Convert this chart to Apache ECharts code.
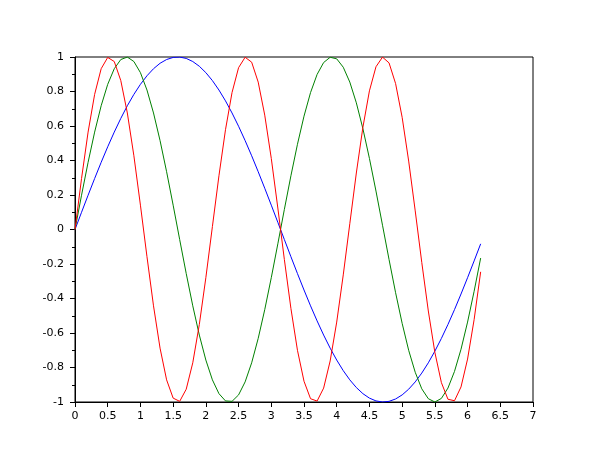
<!DOCTYPE html>
<html><head><meta charset="utf-8">
<script src="https://cdn.jsdelivr.net/npm/echarts@6/dist/echarts.min.js"></script>
<style>html,body{margin:0;padding:0;background:#fff}#c{width:610px;height:460px}</style>
</head><body><div id="c"></div>
<script>
const xs = [0,0.1,0.2,0.3,0.4,0.5,0.6,0.7,0.8,0.9,1,1.1,1.2,1.3,1.4,1.5,1.6,1.7,1.8,1.9,2,2.1,2.2,2.3,2.4,2.5,2.6,2.7,2.8,2.9,3,3.1,3.2,3.3,3.4,3.5,3.6,3.7,3.8,3.9,4,4.1,4.2,4.3,4.4,4.5,4.6,4.7,4.8,4.9,5,5.1,5.2,5.3,5.4,5.5,5.6,5.7,5.8,5.9,6,6.1,6.2];
const blueY = [0,0.0998,0.1987,0.2955,0.3894,0.4794,0.5646,0.6442,0.7174,0.7833,0.8415,0.8912,0.9320,0.9636,0.9854,0.9975,0.9996,0.9917,0.9738,0.9463,0.9093,0.8632,0.8085,0.7457,0.6755,0.5985,0.5155,0.4274,0.3350,0.2392,0.1411,0.0416,-0.0584,-0.1577,-0.2555,-0.3508,-0.4425,-0.5298,-0.6119,-0.6878,-0.7568,-0.8183,-0.8716,-0.9162,-0.9516,-0.9775,-0.9937,-0.9999,-0.9962,-0.9825,-0.9589,-0.9258,-0.8835,-0.8323,-0.7728,-0.7055,-0.6313,-0.5507,-0.4646,-0.3739,-0.2794,-0.1822,-0.0831];
const greenY = [0,0.1987,0.3894,0.5646,0.7174,0.8415,0.9320,0.9854,0.9996,0.9738,0.9093,0.8085,0.6755,0.5155,0.3350,0.1411,-0.0584,-0.2555,-0.4425,-0.6119,-0.7568,-0.8716,-0.9516,-0.9937,-0.9962,-0.9589,-0.8835,-0.7728,-0.6313,-0.4646,-0.2794,-0.0831,0.1165,0.3115,0.4941,0.6570,0.7937,0.8987,0.9679,0.9985,0.9894,0.9407,0.8546,0.7344,0.5849,0.4121,0.2229,0.0248,-0.1743,-0.3665,-0.5440,-0.7004,-0.8278,-0.9236,-0.9809,-1.0000,-0.9792,-0.9193,-0.8228,-0.6941,-0.5366,-0.3582,-0.1656];
const redY = [0,0.2955,0.5646,0.7833,0.9320,0.9975,0.9738,0.8632,0.6755,0.4274,0.1411,-0.1577,-0.4425,-0.6878,-0.8716,-0.9775,-0.9962,-0.9258,-0.7728,-0.5507,-0.2794,0.0168,0.3115,0.5784,0.7937,0.9380,0.9985,0.9699,0.8546,0.6630,0.4121,0.1245,-0.1743,-0.4575,-0.7004,-0.8797,-0.9809,-0.9946,-0.9193,-0.7620,-0.5366,-0.2632,0.0336,0.3275,0.5921,0.8038,0.9434,0.9993,0.9657,0.8457,0.6503,0.3967,0.1078,-0.1909,-0.4724,-0.7118,-0.8876,-0.9841,-0.9927,-0.9126,-0.7510,-0.5226,-0.2453];

function pairs(ys){ return xs.map((x,i)=>[x, ys[i]]); }
const chart = echarts.init(document.getElementById('c'), null, {renderer:'canvas'});
const lbl = {color:'#000', fontSize:11, fontFamily:'DejaVu Sans'};
chart.setOption({
  animation:false,
  backgroundColor:'#fff',
  grid:{left:75, right:77, top:57, bottom:58, show:true, borderColor:'#000', borderWidth:1, backgroundColor:'transparent'},
  xAxis:{type:'value', min:0, max:7, interval:0.5,
    axisLine:{show:true, onZero:false, lineStyle:{color:'#000', width:1}},
    axisTick:{show:true, inside:false, length:5, lineStyle:{color:'#000'}},
    splitLine:{show:false},
    axisLabel:Object.assign({margin:9, formatter:v=>String(+v.toFixed(1))}, lbl)},
  yAxis:{type:'value', min:-1, max:1, interval:0.2,
    axisLine:{show:true, onZero:false, lineStyle:{color:'#000', width:1}},
    axisTick:{show:true, inside:false, length:5, lineStyle:{color:'#000'}},
    minorTick:{show:true, splitNumber:2, length:3, lineStyle:{color:'#000'}},
    splitLine:{show:false},
    axisLabel:Object.assign({margin:11, formatter:v=>String(+v.toFixed(1))}, lbl)},
  series:[
    {type:'line', data:pairs(blueY), showSymbol:false, symbol:'none', lineStyle:{color:'#0000ff', width:1}, itemStyle:{color:'#0000ff'}},
    {type:'line', data:pairs(greenY), showSymbol:false, symbol:'none', lineStyle:{color:'#008000', width:1}, itemStyle:{color:'#008000'}},
    {type:'line', data:pairs(redY), showSymbol:false, symbol:'none', lineStyle:{color:'#ff0000', width:1}, itemStyle:{color:'#ff0000'}}
  ]
});
</script></body></html>
